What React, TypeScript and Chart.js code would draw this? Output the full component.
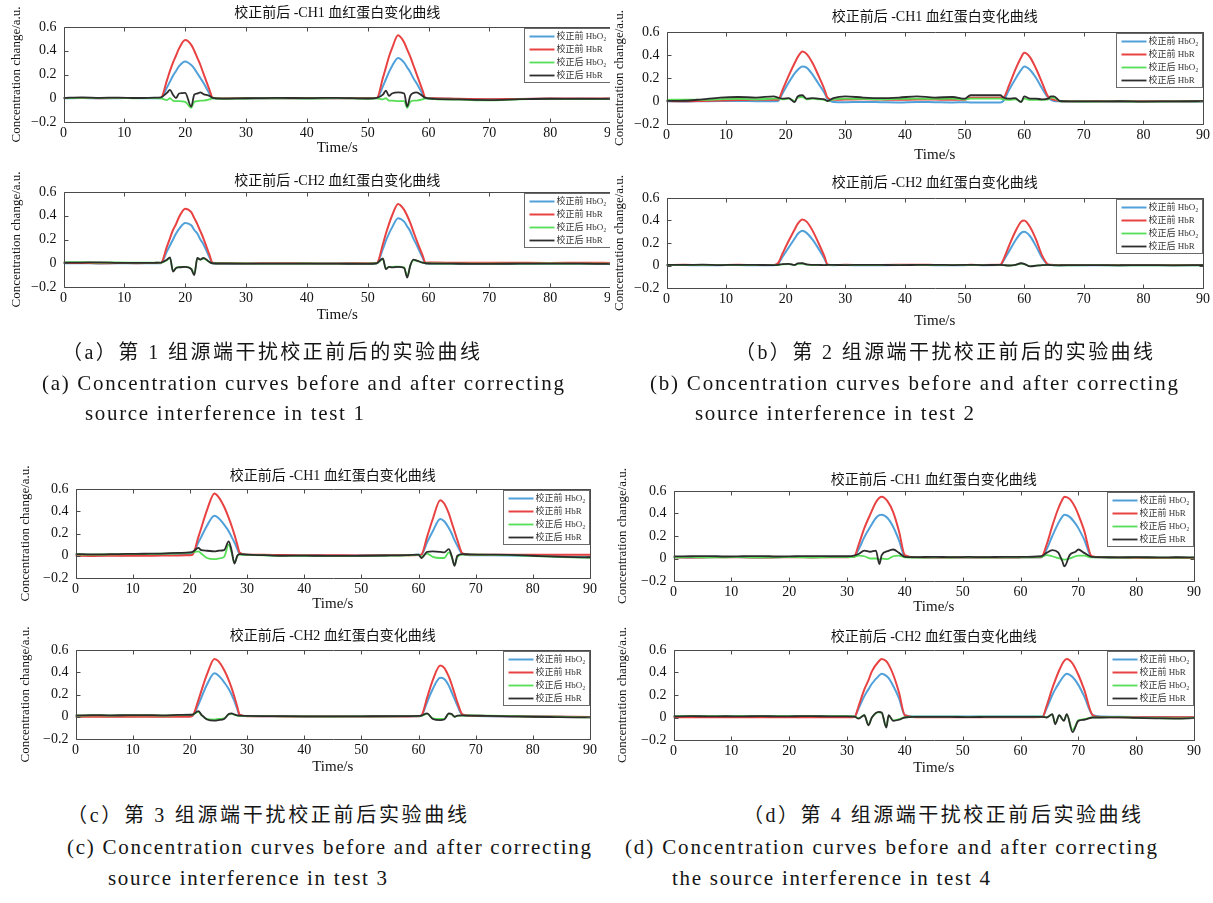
import React, { useEffect, useLayoutEffect, useRef } from 'react';
import { Chart, registerables } from 'chart.js';

Chart.register(...registerables);

// ---------------- data ----------------
const X_TICKS = [0, 10, 20, 30, 40, 50, 60, 70, 80, 90];
const X_TICK_LABELS = ['0', '10', '20', '30', '40', '50', '60', '70', '80', '90'];
const Y_TICKS = [-0.2, 0, 0.2, 0.4, 0.6];
const Y_TICK_LABELS = ['\u22120.2', '0', '0.2', '0.4', '0.6'];

const SERIES_LABELS = ['校正前 HbO₂', '校正前 HbR', '校正后 HbO₂', '校正后 HbR'];
const CH_TITLES = ['校正前后 -CH1 血红蛋白变化曲线', '校正前后 -CH2 血红蛋白变化曲线'];
const X_TITLE = 'Time/s';
const Y_TITLE = 'Concentration change/a.u.';

// test 1 (panel a)
const T_A = [0, 3, 6, 9, 12, 15, 16, 17, 17.5, 18, 18.5, 19, 20, 21, 21.5, 22, 22.5, 23, 24, 24.5, 26, 30, 35, 40, 45, 50, 51.5, 52.5, 53, 53.5, 54, 55, 56, 56.5, 57, 57.5, 58, 59, 59.5, 61, 65, 70, 75, 80, 85, 90];
const A1_HBO2_PRE = [0.0, 0.002, 0.0, 0.001, 0.002, 0.0, 0.001, 0.09, 0.14, 0.19, 0.23, 0.27, 0.31, 0.28, 0.25, 0.21, 0.17, 0.13, 0.04, 0.0, -0.003, -0.002, 0.0, -0.002, 0.0, -0.001, 0.0, 0.10, 0.16, 0.22, 0.27, 0.34, 0.30, 0.26, 0.22, 0.17, 0.13, 0.04, 0.0, -0.003, -0.006, -0.008, -0.006, -0.004, -0.003, -0.004];
const A1_HBR_PRE = [0.002, 0.003, 0.001, 0.002, 0.003, 0.002, 0.003, 0.15, 0.23, 0.30, 0.36, 0.42, 0.49, 0.45, 0.40, 0.34, 0.28, 0.21, 0.07, 0.005, -0.002, 0.0, 0.001, -0.001, 0.0, 0.0, 0.002, 0.17, 0.26, 0.35, 0.42, 0.53, 0.47, 0.41, 0.35, 0.28, 0.21, 0.07, 0.005, 0.0, -0.005, -0.008, -0.006, -0.003, -0.002, -0.003];
const A1_HBO2_POST = [0.0, 0.004, 0.002, 0.003, 0.0, 0.002, 0.0, -0.015, 0.0, -0.02, -0.025, -0.025, -0.03, -0.08, -0.03, -0.025, -0.02, -0.02, -0.01, 0.0, -0.004, -0.002, 0.0, -0.002, 0.001, -0.004, 0.0, -0.01, 0.0, -0.02, -0.02, -0.025, -0.025, -0.08, -0.03, -0.02, -0.02, -0.01, 0.0, -0.008, -0.012, -0.018, -0.01, -0.006, -0.008, -0.006];
const A1_HBR_POST = [0.003, 0.008, 0.004, 0.006, 0.002, 0.005, 0.008, 0.045, 0.07, 0.03, 0.002, 0.04, 0.045, -0.07, 0.03, 0.04, 0.05, 0.035, 0.02, 0.003, -0.003, 0.0, 0.003, 0.001, 0.004, -0.002, 0.003, 0.03, 0.065, 0.02, 0.04, 0.05, 0.04, -0.07, 0.02, 0.045, 0.05, 0.02, 0.003, -0.005, -0.01, -0.015, -0.008, -0.004, -0.006, -0.004];
const A2_HBO2_PRE = [0.0, 0.001, -0.002, 0.0, 0.001, 0.0, 0.001, 0.10, 0.15, 0.20, 0.25, 0.29, 0.34, 0.32, 0.28, 0.25, 0.20, 0.16, 0.05, 0.0, -0.003, -0.004, -0.002, -0.003, -0.004, -0.002, 0.0, 0.12, 0.19, 0.25, 0.30, 0.38, 0.35, 0.31, 0.27, 0.21, 0.16, 0.05, 0.0, -0.002, -0.004, -0.003, -0.004, -0.003, -0.003, -0.004];
const A2_HBR_PRE = [0.003, 0.002, 0.0, 0.002, 0.001, 0.002, 0.003, 0.14, 0.21, 0.28, 0.33, 0.39, 0.46, 0.43, 0.38, 0.33, 0.27, 0.21, 0.07, 0.005, 0.0, -0.002, 0.0, -0.001, -0.002, 0.0, 0.002, 0.16, 0.25, 0.33, 0.40, 0.50, 0.45, 0.40, 0.34, 0.27, 0.20, 0.07, 0.005, 0.006, 0.004, 0.005, 0.004, 0.003, 0.004, 0.003];
const A2_HBO2_POST = [0.008, 0.01, 0.006, 0.007, 0.005, 0.006, 0.004, 0.025, 0.045, -0.065, -0.04, -0.03, -0.03, -0.045, -0.09, 0.04, 0.03, 0.04, 0.01, 0.0, -0.001, -0.002, -0.003, -0.002, -0.003, -0.004, 0.0, 0.035, -0.045, -0.03, -0.03, -0.028, -0.035, -0.11, -0.02, 0.025, 0.02, 0.005, 0.0, -0.002, -0.003, -0.004, -0.003, -0.002, -0.003, -0.004];
const A2_HBR_POST = [0.005, 0.006, 0.008, 0.004, 0.003, 0.004, 0.005, 0.03, 0.05, -0.07, -0.04, -0.035, -0.03, -0.05, -0.1, 0.045, 0.03, 0.045, 0.01, 0.0, -0.002, -0.003, -0.004, -0.003, -0.004, -0.005, 0.0, 0.04, -0.05, -0.03, -0.035, -0.03, -0.04, -0.12, -0.02, 0.03, 0.025, 0.005, 0.0, -0.003, -0.004, -0.005, -0.004, -0.003, -0.004, -0.005];

// test 2 (panel b)
const T_B = [0, 3, 6, 9, 12, 15, 18, 18.7, 19.5, 20.5, 21.5, 22, 22.8, 23.5, 24.5, 25.5, 26.5, 27, 28, 30, 33, 36, 39, 42, 45, 48, 50, 51, 53, 56, 56.5, 57.5, 58.5, 59.5, 60, 61, 62, 63, 64, 64.5, 65, 66, 68, 72, 76, 80, 85, 90];
const B1_HBO2_PRE = [-0.002, -0.004, -0.002, 0.0, 0.0, -0.002, -0.003, 0.0, 0.07, 0.16, 0.24, 0.27, 0.30, 0.29, 0.23, 0.15, 0.07, 0.02, -0.008, -0.01, -0.008, -0.01, -0.012, -0.008, -0.01, -0.012, -0.01, -0.012, -0.012, -0.012, 0.0, 0.1, 0.19, 0.27, 0.30, 0.27, 0.2, 0.11, 0.03, 0.01, 0.0, -0.003, -0.004, -0.003, -0.004, -0.003, -0.004, -0.003];
const B1_HBR_PRE = [0.0, -0.003, 0.0, 0.005, 0.008, 0.01, 0.01, 0.01, 0.1, 0.22, 0.33, 0.38, 0.43, 0.41, 0.33, 0.22, 0.1, 0.03, 0.01, 0.012, 0.015, 0.012, 0.01, 0.013, 0.012, 0.01, 0.01, 0.028, 0.028, 0.028, 0.03, 0.14, 0.27, 0.38, 0.42, 0.38, 0.28, 0.16, 0.04, 0.02, 0.01, 0.0, -0.002, -0.003, -0.002, -0.003, -0.002, -0.001];
const B1_HBO2_POST = [0.01, 0.012, 0.01, 0.015, 0.018, 0.015, 0.02, 0.02, 0.015, 0.02, 0.0, 0.03, 0.035, 0.015, 0.02, 0.015, 0.01, 0.0, 0.015, 0.02, 0.018, 0.015, 0.018, 0.02, 0.018, 0.02, 0.015, 0.02, 0.02, 0.02, 0.015, 0.01, 0.015, -0.005, 0.02, 0.01, 0.01, 0.01, 0.015, 0.03, 0.03, -0.002, -0.004, -0.005, -0.003, -0.006, -0.004, -0.003];
const B1_HBR_POST = [0.0, 0.002, 0.015, 0.03, 0.035, 0.03, 0.04, 0.03, 0.02, 0.025, -0.01, 0.04, 0.05, 0.02, 0.025, 0.02, 0.015, 0.0, 0.025, 0.04, 0.03, 0.025, 0.03, 0.04, 0.03, 0.035, 0.02, 0.05, 0.05, 0.05, 0.03, 0.02, 0.025, -0.01, 0.04, 0.02, 0.02, 0.015, 0.02, 0.04, 0.04, 0.0, -0.003, -0.004, -0.002, -0.005, -0.003, -0.002];
const B2_HBO2_PRE = [0.003, 0.004, 0.002, 0.003, 0.004, 0.002, 0.003, 0.015, 0.08, 0.16, 0.24, 0.28, 0.31, 0.29, 0.23, 0.15, 0.06, 0.008, 0.003, 0.004, 0.002, 0.003, 0.004, 0.005, 0.003, 0.002, 0.003, 0.004, 0.003, 0.004, 0.04, 0.13, 0.22, 0.29, 0.30, 0.26, 0.17, 0.07, 0.008, 0.004, 0.003, 0.002, 0.003, 0.002, 0.003, 0.002, 0.003, 0.002];
const B2_HBR_PRE = [0.005, 0.006, 0.004, 0.005, 0.006, 0.004, 0.005, 0.02, 0.11, 0.22, 0.32, 0.37, 0.41, 0.39, 0.31, 0.2, 0.08, 0.01, 0.005, 0.006, 0.004, 0.005, 0.006, 0.007, 0.005, 0.004, 0.005, 0.006, 0.005, 0.006, 0.05, 0.18, 0.3, 0.39, 0.40, 0.34, 0.23, 0.09, 0.01, 0.006, 0.005, 0.004, 0.005, 0.004, 0.005, 0.004, 0.005, 0.004];
const B2_HBO2_POST = [0.004, 0.003, 0.005, 0.003, 0.004, 0.003, 0.003, 0.004, 0.01, 0.012, 0.004, 0.015, 0.018, 0.008, 0.004, 0.003, 0.003, 0.004, 0.003, 0.003, 0.004, 0.003, 0.003, 0.004, 0.004, 0.003, 0.004, 0.004, 0.003, 0.004, 0.003, 0.0, 0.004, 0.018, 0.012, -0.006, -0.001, 0.003, 0.004, 0.003, 0.002, 0.001, 0.002, 0.003, 0.001, 0.002, 0.001, 0.002];
const B2_HBR_POST = [0.006, 0.005, 0.007, 0.004, 0.006, 0.005, 0.004, 0.006, 0.012, 0.015, 0.005, 0.018, 0.02, 0.01, 0.006, 0.005, 0.004, 0.005, 0.005, 0.004, 0.006, 0.005, 0.004, 0.005, 0.006, 0.004, 0.005, 0.006, 0.004, 0.005, 0.004, 0.0, 0.006, 0.02, 0.015, -0.008, -0.002, 0.004, 0.005, 0.004, 0.003, 0.002, 0.003, 0.004, 0.002, 0.003, 0.002, 0.003];

// test 3 (panel c)
const T_C = [0, 3, 6, 9, 12, 15, 18, 20, 20.5, 21.5, 22, 23, 24.3, 25, 26, 26.8, 27.3, 27.8, 28.3, 28.7, 30, 33, 36, 40, 45, 50, 55, 58, 60, 60.5, 61.5, 62.5, 63.8, 64.5, 65.3, 65.8, 66.3, 66.8, 67.7, 69, 72, 76, 80, 84, 87, 90];
const C1_HBO2_PRE = [0.005, 0.004, 0.006, 0.005, 0.006, 0.008, 0.012, 0.015, 0.02, 0.12, 0.17, 0.27, 0.36, 0.34, 0.28, 0.22, 0.17, 0.12, 0.06, 0.02, 0.008, 0.006, 0.004, 0.003, 0.002, 0.003, 0.004, 0.006, 0.008, 0.01, 0.12, 0.22, 0.33, 0.31, 0.25, 0.2, 0.14, 0.09, 0.015, 0.005, 0.004, 0.003, 0.0, -0.005, -0.008, -0.01];
const C1_HBR_PRE = [0.0, -0.002, 0.0, 0.001, 0.0, 0.002, 0.003, 0.005, 0.01, 0.17, 0.25, 0.41, 0.56, 0.53, 0.44, 0.34, 0.27, 0.19, 0.1, 0.03, 0.01, 0.008, 0.006, 0.005, 0.004, 0.003, 0.004, 0.005, 0.006, 0.01, 0.17, 0.33, 0.50, 0.47, 0.38, 0.3, 0.22, 0.14, 0.02, 0.01, 0.01, 0.01, 0.01, 0.01, 0.01, 0.01];
const C1_HBO2_POST = [0.012, 0.01, 0.012, 0.014, 0.015, 0.018, 0.022, 0.028, 0.03, 0.04, 0.02, -0.02, -0.03, -0.025, -0.01, 0.1, 0.03, -0.06, -0.005, 0.01, 0.008, 0.004, -0.002, 0.0, -0.004, -0.002, 0.001, 0.003, 0.008, -0.01, 0.02, -0.01, -0.02, -0.02, 0.03, -0.01, -0.08, -0.01, 0.01, 0.01, 0.008, 0.005, -0.003, -0.01, -0.015, -0.018];
const C1_HBR_POST = [0.015, 0.012, 0.014, 0.016, 0.018, 0.02, 0.025, 0.03, 0.035, 0.07, 0.05, 0.045, 0.04, 0.045, 0.05, 0.13, 0.05, -0.07, 0.0, 0.015, 0.01, 0.005, 0.0, 0.002, -0.002, 0.0, 0.003, 0.005, 0.01, -0.02, 0.035, 0.04, 0.035, 0.03, 0.06, 0.0, -0.09, 0.0, 0.015, 0.012, 0.01, 0.008, 0.0, -0.008, -0.012, -0.015];
const C2_HBO2_PRE = [0.005, 0.006, 0.004, 0.005, 0.006, 0.005, 0.007, 0.008, 0.01, 0.11, 0.17, 0.29, 0.39, 0.37, 0.31, 0.25, 0.2, 0.14, 0.07, 0.015, 0.006, 0.005, 0.004, 0.003, 0.003, 0.004, 0.003, 0.004, 0.005, 0.01, 0.13, 0.25, 0.35, 0.34, 0.28, 0.22, 0.16, 0.1, 0.015, 0.008, 0.005, 0.003, 0.002, 0.0, -0.002, -0.003];
const C2_HBR_PRE = [0.0, 0.001, 0.0, -0.001, 0.0, 0.001, 0.0, 0.001, 0.01, 0.15, 0.23, 0.38, 0.52, 0.50, 0.42, 0.33, 0.26, 0.18, 0.09, 0.02, 0.005, 0.004, 0.003, 0.002, 0.002, 0.003, 0.002, 0.003, 0.004, 0.01, 0.17, 0.33, 0.46, 0.44, 0.36, 0.29, 0.21, 0.13, 0.02, 0.01, 0.006, 0.004, 0.003, 0.002, 0.0, -0.002];
const C2_HBO2_POST = [0.01, 0.012, 0.011, 0.012, 0.013, 0.011, 0.014, 0.016, 0.018, 0.045, 0.015, -0.02, -0.025, -0.02, -0.015, 0.02, 0.025, 0.018, 0.01, 0.008, 0.006, 0.005, 0.004, 0.003, 0.002, 0.003, 0.004, 0.005, 0.007, 0.008, 0.025, -0.015, -0.02, -0.02, 0.025, 0.02, 0.0, 0.008, 0.01, 0.012, 0.01, 0.006, 0.002, 0.0, -0.004, -0.005];
const C2_HBR_POST = [0.012, 0.015, 0.013, 0.014, 0.015, 0.013, 0.016, 0.018, 0.02, 0.05, 0.02, -0.025, -0.035, -0.03, -0.02, 0.025, 0.03, 0.02, 0.012, 0.01, 0.008, 0.006, 0.005, 0.004, 0.003, 0.004, 0.005, 0.006, 0.008, 0.01, 0.03, -0.02, -0.03, -0.025, 0.03, 0.025, 0.0, 0.01, 0.012, 0.01, 0.008, 0.004, 0.0, -0.003, -0.005, -0.006];

// test 4 (panel d)
const T_D1 = [0, 3, 6, 9, 12, 15, 18, 21, 24, 27, 30, 31.2, 32, 33, 34, 35, 35.6, 36, 37, 38, 39, 40, 42, 45, 48, 51, 54, 57, 60, 63.6, 64.5, 65.5, 66.5, 67.2, 67.6, 68.5, 69.5, 70, 71, 72.3, 74, 77, 80, 84, 87, 90];
const D1_HBO2_PRE = [0.012, 0.01, 0.012, 0.014, 0.012, 0.01, 0.012, 0.014, 0.012, 0.014, 0.014, 0.015, 0.08, 0.19, 0.28, 0.36, 0.385, 0.39, 0.36, 0.28, 0.16, 0.02, 0.01, 0.008, 0.01, 0.008, 0.01, 0.008, 0.01, 0.012, 0.08, 0.2, 0.31, 0.37, 0.39, 0.37, 0.31, 0.27, 0.17, 0.015, 0.01, 0.008, 0.006, 0.005, 0.006, 0.005];
const D1_HBR_PRE = [0.01, 0.008, 0.01, 0.012, 0.01, 0.008, 0.01, 0.012, 0.01, 0.012, 0.012, 0.015, 0.12, 0.27, 0.39, 0.5, 0.54, 0.55, 0.51, 0.41, 0.24, 0.03, 0.01, 0.008, 0.01, 0.008, 0.01, 0.008, 0.01, 0.012, 0.12, 0.29, 0.44, 0.52, 0.55, 0.53, 0.45, 0.39, 0.25, 0.02, 0.01, 0.008, 0.006, 0.005, 0.006, 0.005];
const D1_HBO2_POST = [0.01, 0.012, 0.01, 0.011, 0.012, 0.01, 0.011, 0.012, 0.01, 0.012, 0.012, 0.015, 0.025, 0.02, 0.0, 0.0, -0.01, 0.0, -0.005, 0.02, 0.025, 0.01, 0.008, 0.01, 0.009, 0.01, 0.009, 0.01, 0.01, 0.015, 0.03, 0.02, 0.005, -0.005, -0.01, 0.0, 0.02, 0.025, 0.025, 0.01, 0.01, 0.008, 0.01, 0.008, 0.009, 0.008];
const D1_HBR_POST = [0.018, 0.02, 0.022, 0.018, 0.02, 0.022, 0.018, 0.02, 0.022, 0.02, 0.02, 0.025, 0.04, 0.07, 0.06, 0.07, -0.05, 0.03, 0.065, 0.08, 0.05, 0.015, 0.012, 0.015, 0.012, 0.014, 0.012, 0.015, 0.014, 0.02, 0.05, 0.075, 0.055, -0.02, -0.07, 0.03, 0.06, 0.08, 0.05, 0.015, 0.012, 0.01, 0.012, 0.01, 0.011, 0.01];
const T_D2 = [0, 3, 6, 9, 12, 15, 18, 21, 24, 27, 30, 31.3, 32, 33, 33.7, 34.3, 35.5, 36, 36.8, 37.2, 38, 39, 40, 42, 45, 48, 51, 54, 57, 60, 63.8, 64.5, 65.5, 66, 66.7, 67.5, 68, 69, 70, 71, 72.5, 74, 77, 80, 84, 87, 90];
const D2_HBO2_PRE = [0.008, 0.01, 0.009, 0.01, 0.008, 0.01, 0.009, 0.01, 0.008, 0.01, 0.01, 0.01, 0.08, 0.19, 0.25, 0.3, 0.37, 0.39, 0.37, 0.35, 0.28, 0.17, 0.02, 0.008, 0.01, 0.009, 0.008, 0.01, 0.009, 0.008, 0.01, 0.08, 0.2, 0.25, 0.31, 0.37, 0.39, 0.36, 0.29, 0.19, 0.02, 0.008, 0.006, 0.005, 0.004, 0.003, 0.002];
const D2_HBR_PRE = [0.003, 0.002, 0.003, 0.002, 0.003, 0.002, 0.003, 0.002, 0.003, 0.002, 0.003, 0.005, 0.1, 0.25, 0.33, 0.41, 0.5, 0.52, 0.5, 0.47, 0.38, 0.22, 0.02, 0.003, 0.002, 0.003, 0.002, 0.003, 0.002, 0.003, 0.005, 0.1, 0.26, 0.33, 0.42, 0.5, 0.52, 0.48, 0.38, 0.25, 0.02, 0.004, 0.003, 0.002, 0.003, 0.002, 0.003];
const D2_HBO2_POST = [0.012, 0.014, 0.012, 0.013, 0.012, 0.014, 0.012, 0.013, 0.014, 0.012, 0.012, 0.01, -0.005, 0.02, -0.06, 0.0, 0.045, 0.04, -0.08, 0.015, -0.025, -0.015, 0.002, 0.007, 0.008, 0.007, 0.006, 0.007, 0.008, 0.007, 0.007, 0.002, 0.025, -0.05, 0.018, -0.025, 0.025, -0.11, -0.025, -0.015, 0.002, 0.002, 0.004, -0.002, -0.006, -0.008, -0.004];
const D2_HBR_POST = [0.01, 0.012, 0.01, 0.011, 0.01, 0.012, 0.01, 0.011, 0.012, 0.01, 0.01, 0.008, -0.01, 0.02, -0.07, 0.0, 0.05, 0.045, -0.09, 0.02, -0.03, -0.02, 0.0, 0.005, 0.006, 0.005, 0.004, 0.005, 0.006, 0.005, 0.005, 0.0, 0.03, -0.06, 0.02, -0.03, 0.03, -0.13, -0.03, -0.02, 0.0, 0.0, 0.002, -0.004, -0.008, -0.01, -0.006];

const CAPTION_TEXTS = [
  '（a）第 1 组源端干扰校正前后的实验曲线',
  '(a) Concentration curves before and after correcting',
  'source interference in test 1',
  '（b）第 2 组源端干扰校正前后的实验曲线',
  '(b) Concentration curves before and after correcting',
  'source interference in test 2',
  '（c）第 3 组源端干扰校正前后实验曲线',
  '(c) Concentration curves before and after correcting',
  'source interference in test 3',
  '（d）第 4 组源端干扰校正前后实验曲线',
  '(d) Concentration curves before and after correcting',
  'the source interference in test 4',
];

// ---------------- styles / layout ----------------
const SERIF = "'Liberation Serif', 'Noto Sans CJK SC', serif";
const COLORS = ['rgb(80,160,218)', 'rgb(232,66,66)', 'rgb(86,222,86)', 'rgb(45,45,45)'];
const WIDTHS = [2, 2, 1.8, 1.8];
const ORDERS = [3, 2, 1, 0];
const FRAME_COLOR = '#4a4a4a';
const TICK_LEN = 4;
const TITLE_SIZE = 14;
const TITLE_LH = 18;
const TICK_SIZE = 14;
const XT_SIZE = 15;
const XT_LH = 18;
const YT_SIZE = 13;
const YT_LH = 15;
const PAD_R = 14;
const PAD_B = 10;
const PAD_T = 16;
const LEGEND_W = 86;
const LEGEND_H = 54;

const PLOTS = [
  { key: 'a1', title: CH_TITLES[0], t: T_A, s: [A1_HBO2_PRE, A1_HBR_PRE, A1_HBO2_POST, A1_HBR_POST], L: 63, R: 611, T: 27, B: 122, tY: 13, xtY: 148, yOff: 47, clip: true },
  { key: 'a2', title: CH_TITLES[1], t: T_A, s: [A2_HBO2_PRE, A2_HBR_PRE, A2_HBO2_POST, A2_HBR_POST], L: 63, R: 611, T: 192, B: 287, tY: 181, xtY: 315, yOff: 47, clip: true },
  { key: 'b1', title: CH_TITLES[0], t: T_B, s: [B1_HBO2_PRE, B1_HBR_PRE, B1_HBO2_POST, B1_HBR_POST], L: 666, R: 1203, T: 32, B: 124, tY: 17, xtY: 155, yOff: 47, clip: false },
  { key: 'b2', title: CH_TITLES[1], t: T_B, s: [B2_HBO2_PRE, B2_HBR_PRE, B2_HBO2_POST, B2_HBR_POST], L: 666, R: 1203, T: 198, B: 288, tY: 183, xtY: 321, yOff: 47, clip: false },
  { key: 'c1', title: CH_TITLES[0], t: T_C, s: [C1_HBO2_PRE, C1_HBR_PRE, C1_HBO2_POST, C1_HBR_POST], L: 75, R: 590, T: 489, B: 578, tY: 476, xtY: 604, yOff: 50, clip: false },
  { key: 'c2', title: CH_TITLES[1], t: T_C, s: [C2_HBO2_PRE, C2_HBR_PRE, C2_HBO2_POST, C2_HBR_POST], L: 75, R: 590, T: 650, B: 739, tY: 636, xtY: 767, yOff: 50, clip: false },
  { key: 'd1', title: CH_TITLES[0], t: T_D1, s: [D1_HBO2_PRE, D1_HBR_PRE, D1_HBO2_POST, D1_HBR_POST], L: 673, R: 1194, T: 491, B: 581, tY: 480, xtY: 607, yOff: 51, clip: false },
  { key: 'd2', title: CH_TITLES[1], t: T_D2, s: [D2_HBO2_PRE, D2_HBR_PRE, D2_HBO2_POST, D2_HBR_POST], L: 673, R: 1194, T: 650, B: 740, tY: 637, xtY: 768, yOff: 51, clip: false },
];

const CAPTION_POS = [
  { x: 62, y: 352, w: 418, size: 20 },
  { x: 42, y: 383, w: 522, size: 21 },
  { x: 85, y: 413, w: 279, size: 21 },
  { x: 735, y: 352, w: 418, size: 20 },
  { x: 650, y: 383, w: 528, size: 21 },
  { x: 695, y: 413, w: 279, size: 21 },
  { x: 67, y: 815, w: 400, size: 20 },
  { x: 67, y: 847, w: 524, size: 21 },
  { x: 108, y: 878, w: 279, size: 21 },
  { x: 743, y: 815, w: 398, size: 20 },
  { x: 625, y: 847, w: 532, size: 21 },
  { x: 672, y: 878, w: 318, size: 21 },
];

function makeFramePlugin() {
  return {
    id: 'matlabFrame',
    afterDatasetsDraw(chart: any) {
      const { ctx, chartArea: ca, scales } = chart;
      const xs = scales.x;
      const ys = scales.y;
      const L = Math.round(ca.left) + 0.5;
      const R = Math.round(ca.right) + 0.5;
      const T = Math.round(ca.top) + 0.5;
      const B = Math.round(ca.bottom) + 0.5;
      ctx.save();
      ctx.strokeStyle = FRAME_COLOR;
      ctx.lineWidth = 1;
      ctx.beginPath();
      for (const tk of xs.ticks) {
        const px = Math.round(xs.getPixelForValue(tk.value)) + 0.5;
        ctx.moveTo(px, B); ctx.lineTo(px, B - TICK_LEN);
        ctx.moveTo(px, T); ctx.lineTo(px, T + TICK_LEN);
      }
      for (const tk of ys.ticks) {
        const py = Math.round(ys.getPixelForValue(tk.value)) + 0.5;
        ctx.moveTo(L, py); ctx.lineTo(L + TICK_LEN, py);
        ctx.moveTo(R, py); ctx.lineTo(R - TICK_LEN, py);
      }
      ctx.rect(L, T, R - L, B - T);
      ctx.stroke();

      // legend box (top-right, inside the axes)
      const bx = R - LEGEND_W - 1;
      const by = T + 1;
      ctx.fillStyle = '#ffffff';
      ctx.fillRect(bx, by, LEGEND_W, LEGEND_H);
      ctx.strokeStyle = '#6a6a6a';
      ctx.strokeRect(bx, by, LEGEND_W, LEGEND_H);
      ctx.font = `9px ${SERIF}`;
      ctx.textBaseline = 'middle';
      ctx.textAlign = 'left';
      chart.data.datasets.forEach((ds: any, i: number) => {
        const y = Math.round(by + 7 + i * 13) + 0.5;
        ctx.strokeStyle = ds.borderColor;
        ctx.lineWidth = ds.borderWidth;
        ctx.beginPath();
        ctx.moveTo(bx + 5, y);
        ctx.lineTo(bx + 30, y);
        ctx.stroke();
        ctx.fillStyle = '#333';
        ctx.fillText(ds.label, bx + 32, y);
      });
      ctx.restore();
    },
  };
}

function SubPlot({ p }: { p: any }) {
  const ref = useRef<HTMLCanvasElement>(null);
  const wy = p.yOff + YT_LH / 2;
  const left = p.L - wy;
  const top = p.tY - TITLE_LH / 2 - PAD_T;
  const titlePadB = p.T - (p.tY - TITLE_LH / 2) - TITLE_LH;
  const hx = p.xtY + XT_LH / 2 - p.B;
  const width = p.R - p.L + wy + PAD_R;
  const height = p.B + hx + PAD_B - top;

  useEffect(() => {
    const canvas = ref.current;
    if (!canvas) return;
    const datasets = SERIES_LABELS.map((label, i) => ({
      label,
      data: p.t.map((x: number, j: number) => ({ x, y: p.s[i][j] })),
      borderColor: COLORS[i],
      backgroundColor: COLORS[i],
      borderWidth: WIDTHS[i],
      pointRadius: 0,
      fill: false,
      cubicInterpolationMode: 'monotone',
      order: ORDERS[i],
    }));
    const tickFont = { family: SERIF, size: TICK_SIZE };
    const chart = new Chart(canvas, {
      type: 'line',
      data: { datasets },
      plugins: [makeFramePlugin()],
      options: {
        animation: false,
        responsive: false,
        maintainAspectRatio: false,
        events: [],
        layout: { padding: { left: 0, top: PAD_T, right: PAD_R, bottom: PAD_B } },
        plugins: {
          legend: { display: false },
          tooltip: { enabled: false },
          title: {
            display: true,
            text: p.title,
            fullSize: false,
            color: '#111',
            font: { family: SERIF, size: TITLE_SIZE, weight: 'normal', lineHeight: `${TITLE_LH}px` },
            padding: { top: 0, bottom: titlePadB },
          },
        },
        scales: {
          x: {
            type: 'linear',
            min: 0,
            max: 90,
            grid: { display: false, drawTicks: false },
            border: { display: false },
            afterBuildTicks: (s: any) => { s.ticks = X_TICKS.map((v) => ({ value: v })); },
            afterFit: (s: any) => { s.height = hx; },
            ticks: {
              font: tickFont,
              color: '#111',
              padding: 3,
              maxRotation: 0,
              autoSkip: false,
              callback: (_v: any, i: number) => X_TICK_LABELS[i],
            },
            title: {
              display: true,
              text: X_TITLE,
              color: '#111',
              font: { family: SERIF, size: XT_SIZE, lineHeight: `${XT_LH}px` },
              padding: 0,
            },
          },
          y: {
            type: 'linear',
            min: -0.2,
            max: 0.6,
            grid: { display: false, drawTicks: false },
            border: { display: false },
            afterBuildTicks: (s: any) => { s.ticks = Y_TICKS.map((v) => ({ value: v })); },
            afterFit: (s: any) => { s.width = wy; },
            ticks: {
              font: tickFont,
              color: '#111',
              padding: 7,
              autoSkip: false,
              callback: (_v: any, i: number) => Y_TICK_LABELS[i],
            },
            title: {
              display: true,
              text: Y_TITLE,
              color: '#111',
              font: { family: SERIF, size: YT_SIZE, lineHeight: `${YT_LH}px` },
              padding: 0,
            },
          },
        },
      } as any,
    });
    return () => chart.destroy();
  }, []);

  return (
    <canvas
      ref={ref}
      width={width}
      height={height}
      style={{ position: 'absolute', left, top, width, height }}
    />
  );
}

function Caption({ text, pos }: { text: string; pos: any }) {
  const ref = useRef<HTMLDivElement>(null);
  useLayoutEffect(() => {
    const el = ref.current;
    if (!el) return;
    el.style.letterSpacing = '0px';
    const w0 = el.getBoundingClientRect().width;
    const n = Array.from(text).length;
    const ls = (pos.w - w0) / Math.max(1, n - 1);
    el.style.letterSpacing = `${ls}px`;
  }, []);
  return (
    <div
      ref={ref}
      style={{
        position: 'absolute',
        left: pos.x,
        top: pos.y - 12,
        fontFamily: SERIF,
        fontSize: pos.size,
        lineHeight: '24px',
        whiteSpace: 'nowrap',
        color: '#151515',
      }}
    >
      {text}
    </div>
  );
}

export default function App() {
  return (
    <div style={{ position: 'absolute', left: 0, top: 0, width: 1213, height: 903, background: '#fff', overflow: 'hidden' }}>
      <div style={{ position: 'absolute', left: 0, top: 0, width: 610, height: 340, overflow: 'hidden' }}>
        {PLOTS.filter((p) => p.clip).map((p) => <SubPlot key={p.key} p={p} />)}
      </div>
      {PLOTS.filter((p) => !p.clip).map((p) => <SubPlot key={p.key} p={p} />)}
      {CAPTION_TEXTS.map((t, i) => <Caption key={i} text={t} pos={CAPTION_POS[i]} />)}
    </div>
  );
}
